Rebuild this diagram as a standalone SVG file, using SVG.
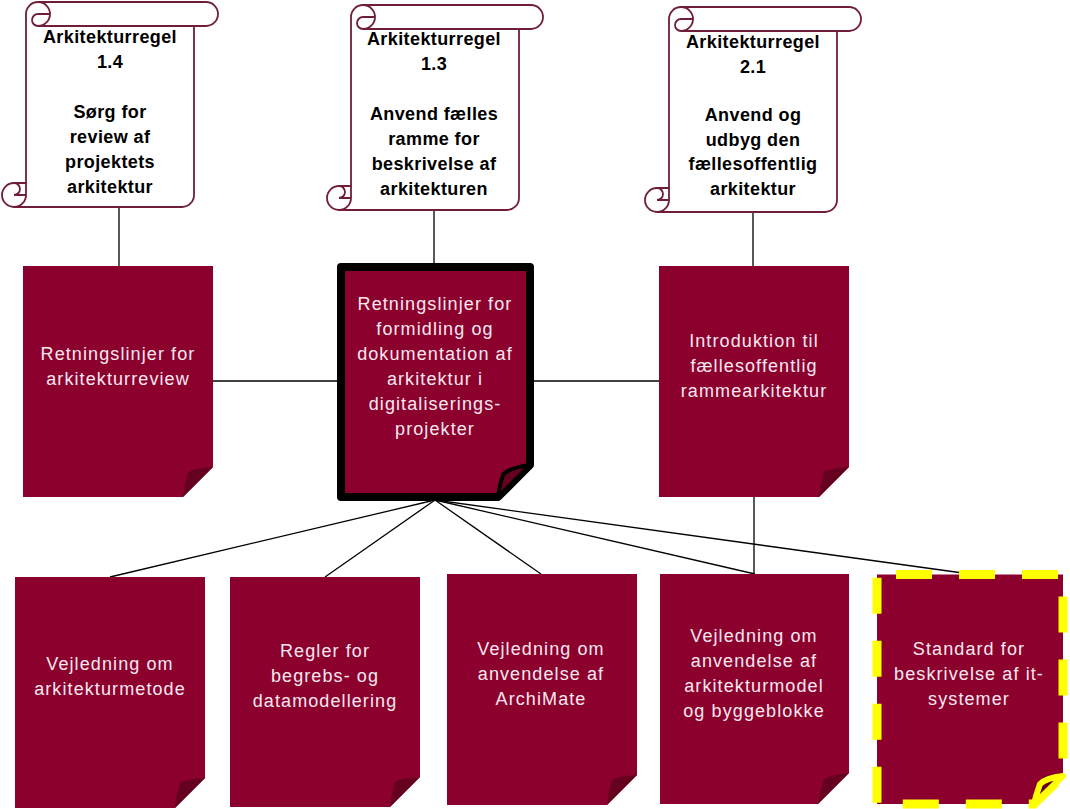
<svg xmlns="http://www.w3.org/2000/svg" width="1070" height="809" viewBox="0 0 1070 809">
<style>
.scroll{fill:#fff;stroke:#6F1D3A;stroke-width:1.8}
.sdet{fill:none;stroke:#6F1D3A;stroke-width:1.8}
.st{font-family:"Liberation Sans",Arial,sans-serif;font-weight:bold;font-size:18px;letter-spacing:0.4px;fill:#000;text-anchor:middle}
.doc{fill:#8C002E}
.curl{fill:#66001F}
.dt{font-family:"Liberation Sans",Arial,sans-serif;font-size:18px;letter-spacing:1.1px;fill:#FAE8EE;text-anchor:middle}
.con{stroke:#000;stroke-width:1.3;fill:none}
</style>
<defs>
<g id="scrollShape">
<path class="scroll" d="M24,181 V12 A12 12 0 0 1 36,0 H204 A12 12 0 0 1 204,24 H192 V193 A12 12 0 0 1 180,205 H12 A12 12 0 0 1 12,181 Z"/>
<path class="sdet" d="M36,0 A12 12 0 0 1 36,24 A6 6 0 0 1 36,12 L48,12 M192,24 H36 M12,181 A6 6 0 0 1 12,193 L24,193 M12,205 A12 12 0 0 0 24,193 V181"/>
</g>
</defs>
<g id="connectors">
<line class="con" x1="119" y1="207" x2="119" y2="266"/>
<line class="con" x1="434" y1="210" x2="434" y2="263"/>
<line class="con" x1="753" y1="213" x2="753" y2="266"/>
<line class="con" x1="213" y1="381" x2="337" y2="381"/>
<line class="con" x1="532" y1="381" x2="659" y2="381"/>
<line class="con" x1="754" y1="497" x2="754" y2="574"/>
<line class="con" x1="435" y1="500" x2="110" y2="577"/>
<line class="con" x1="435" y1="500" x2="325" y2="577"/>
<line class="con" x1="435" y1="500" x2="541" y2="574"/>
<line class="con" x1="435" y1="500" x2="755" y2="574"/>
<line class="con" x1="435" y1="500" x2="970" y2="574"/>
</g>
<g id="rule14">
<use href="#scrollShape" transform="translate(2,2)"/>
<text class="st" x="110" y="43">Arkitekturregel</text>
<text class="st" x="110" y="68">1.4</text>
<text class="st" x="110" y="118">Sørg for</text>
<text class="st" x="110" y="143">review af</text>
<text class="st" x="110" y="168">projektets</text>
<text class="st" x="110" y="193">arkitektur</text>
</g>
<g id="rule13">
<use href="#scrollShape" transform="translate(327,5)"/>
<text class="st" x="434" y="45">Arkitekturregel</text>
<text class="st" x="434" y="70">1.3</text>
<text class="st" x="434" y="120">Anvend fælles</text>
<text class="st" x="434" y="145">ramme for</text>
<text class="st" x="434" y="170">beskrivelse af</text>
<text class="st" x="434" y="195">arkitekturen</text>
</g>
<g id="rule21">
<use href="#scrollShape" transform="translate(645,7)"/>
<text class="st" x="753" y="48">Arkitekturregel</text>
<text class="st" x="753" y="72.5">2.1</text>
<text class="st" x="753" y="121">Anvend og</text>
<text class="st" x="753" y="145.5">udbyg den</text>
<text class="st" x="753" y="170">fællesoffentlig</text>
<text class="st" x="753" y="194.5">arkitektur</text>
</g>
<g id="docA">
<path class="doc" d="M23,266 H213 V467 L183,497 H23 Z"/>
<path class="curl" d="M213,467 Q194,468 188,472 Q184,484 183,497 Z"/>
<text class="dt" x="118" y="360">Retningslinjer for</text>
<text class="dt" x="118" y="385">arkitekturreview</text>
</g>
<g id="docB">
<path class="doc" d="M341,267 H530 V465 L498,497 H341 Z" stroke="#000" stroke-width="8" stroke-linejoin="round"/>
<path d="M530,465 Q508,468 503,475 Q499,486 498,497 Z" fill="#66001F" stroke="#000" stroke-width="4" stroke-linejoin="round"/>
<text class="dt" x="435" y="310">Retningslinjer for</text>
<text class="dt" x="435" y="335">formidling og</text>
<text class="dt" x="435" y="360">dokumentation af</text>
<text class="dt" x="435" y="385">arkitektur i</text>
<text class="dt" x="435" y="410">digitaliserings-</text>
<text class="dt" x="435" y="435">projekter</text>
</g>
<g id="docC">
<path class="doc" d="M659,266 H849 V467 L819,497 H659 Z"/>
<path class="curl" d="M849,467 Q830,468 824,472 Q820,484 819,497 Z"/>
<text class="dt" x="754" y="347">Introduktion til</text>
<text class="dt" x="754" y="372">fællesoffentlig</text>
<text class="dt" x="754" y="397">rammearkitektur</text>
</g>
<g id="docD">
<path class="doc" d="M15,577 H205 V778 L175,808 H15 Z"/>
<path class="curl" d="M205,778 Q186,779 180,783 Q176,795 175,808 Z"/>
<text class="dt" x="110" y="670">Vejledning om</text>
<text class="dt" x="110" y="695">arkitekturmetode</text>
</g>
<g id="docE">
<path class="doc" d="M230,577 H420 V777 L390,807 H230 Z"/>
<path class="curl" d="M420,777 Q401,778 395,782 Q391,794 390,807 Z"/>
<text class="dt" x="325" y="657">Regler for</text>
<text class="dt" x="325" y="682">begrebs- og</text>
<text class="dt" x="325" y="707">datamodellering</text>
</g>
<g id="docF">
<path class="doc" d="M447,574 H637 V775 L607,805 H447 Z"/>
<path class="curl" d="M637,775 Q618,776 612,780 Q608,792 607,805 Z"/>
<text class="dt" x="541" y="655">Vejledning om</text>
<text class="dt" x="541" y="680">anvendelse af</text>
<text class="dt" x="541" y="705">ArchiMate</text>
</g>
<g id="docG">
<path class="doc" d="M660,574 H849 V773 L818,804 H660 Z"/>
<path class="curl" d="M849,773 Q830,775 824,779 Q820,791 818,804 Z"/>
<text class="dt" x="754" y="642">Vejledning om</text>
<text class="dt" x="754" y="667">anvendelse af</text>
<text class="dt" x="754" y="692">arkitekturmodel</text>
<text class="dt" x="754" y="717">og byggeblokke</text>
</g>
<g id="docH">
<path class="doc" d="M877,574.5 H1063 V776 L1034,804 H877 Z" stroke="#FFFF00" stroke-width="9" stroke-dasharray="36 27" stroke-dashoffset="44"/>
<path d="M1063,776 Q1046,778 1040,784 Q1036,795 1034,804 Z" fill="#66001F" stroke="#FFFF00" stroke-width="6" stroke-linejoin="round"/>
<text class="dt" x="969" y="655">Standard for</text>
<text class="dt" x="969" y="680">beskrivelse af it-</text>
<text class="dt" x="969" y="705">systemer</text>
</g>
</svg>
